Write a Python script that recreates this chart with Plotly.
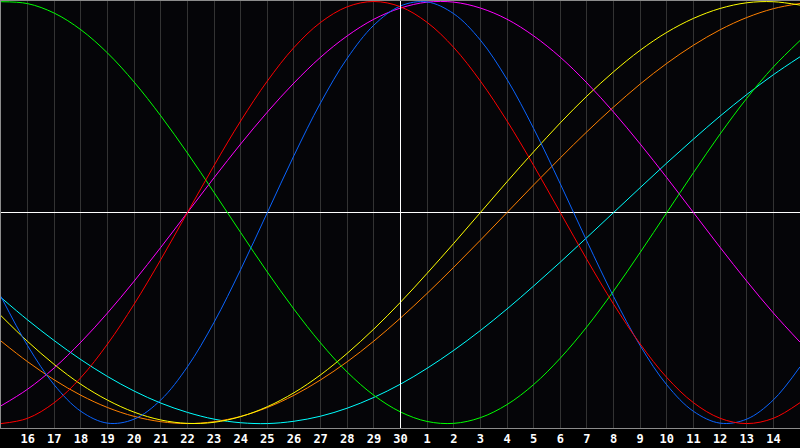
import plotly.graph_objects as go

# day index 0..30, centre (index 15) is the 30th
days = [15, 16, 17, 18, 19, 20, 21, 22, 23, 24, 25, 26, 27, 28, 29, 30,
        1, 2, 3, 4, 5, 6, 7, 8, 9, 10, 11, 12, 13, 14, 15]
x = list(range(len(days)))

red = [-100, -97.5, -90.1, -78.2, -62.3, -43.4, -22.3, 0, 22.3, 43.4, 62.3,
       78.2, 90.1, 97.5, 100, 97.5, 90.1, 78.2, 62.3, 43.4, 22.3, 0, -22.3,
       -43.4, -62.3, -78.2, -90.1, -97.5, -100, -97.5, -90.1]
green = [99.9, 99.0, 94.5, 86.6, 75.6, 61.8, 45.8, 28.2, 9.5, -9.5, -28.2,
         -45.8, -61.8, -75.6, -86.6, -94.5, -99.0, -99.9, -97.2, -91.0, -81.5,
         -69.0, -54.1, -37.2, -18.9, 0, 18.9, 37.2, 54.1, 69.0, 81.5]
blue = [-39.8, -63.1, -81.7, -94.2, -99.8, -97.9, -88.8, -73.1, -52.0, -27.0,
        0, 27.0, 52.0, 73.1, 88.8, 97.9, 99.8, 94.2, 81.7, 63.1, 39.8, 13.6,
        -13.6, -39.8, -63.1, -81.7, -94.2, -99.8, -97.9, -88.8, -73.1]
magenta = [-91.6, -83.7, -73.6, -61.4, -47.6, -32.5, -16.5, 0, 16.5, 32.5,
           47.6, 61.4, 73.6, 83.7, 91.6, 96.9, 99.7, 99.7, 96.9, 91.6, 83.7,
           73.6, 61.4, 47.6, 32.5, 16.5, 0, -16.5, -32.5, -47.6, -61.4]
yellow = [-48.9, -61.1, -72.0, -81.4, -88.9, -94.6, -98.3, -99.9, -99.4, -96.7,
          -92.0, -85.4, -76.9, -66.7, -55.2, -42.5, -28.8, -14.6, 0, 14.6,
          28.8, 42.5, 55.2, 66.7, 76.9, 85.4, 92.0, 96.7, 99.4, 99.9, 98.3]
orange = [-60.9, -70.7, -79.3, -86.6, -92.4, -96.6, -99.1, -100, -99.1, -96.6,
          -92.4, -86.6, -79.3, -70.7, -60.9, -50.0, -38.3, -25.9, -13.1, 0,
          13.1, 25.9, 38.3, 50.0, 60.9, 70.7, 79.3, 86.6, 92.4, 96.6, 99.1]
cyan = [-40.3, -50.9, -60.7, -69.7, -77.7, -84.6, -90.3, -94.7, -97.9, -99.6,
        -100, -98.9, -96.5, -92.7, -87.6, -81.3, -73.8, -65.3, -55.9, -45.7,
        -34.8, -23.5, -11.8, 0, 11.8, 23.5, 34.8, 45.7, 55.9, 65.3, 73.8]

series = [
    (cyan, '#00ffff'),
    (orange, '#ff8000'),
    (yellow, '#ffff00'),
    (magenta, '#ff00ff'),
    (green, '#00ff00'),
    (blue, '#0a64ff'),
    (red, '#ff0000'),
]

fig = go.Figure()
for vals, col in series:
    fig.add_trace(go.Scatter(x=x, y=vals, mode='lines',
                             line=dict(color=col, width=1, shape='spline'),
                             hoverinfo='skip'))

fig.add_vline(x=15, line_color='white', line_width=1)

fig.update_xaxes(range=[0, 30], tickvals=x[1:-1],
                 ticktext=[str(d) for d in days[1:-1]],
                 showgrid=True, gridcolor='#333333', gridwidth=1,
                 zeroline=False, showline=True, linecolor='#8c8c8c',
                 linewidth=1, mirror=True, ticks='',
                 tickfont=dict(family='DejaVu Sans Mono', size=12,
                               color='white', weight='bold'))
fig.update_yaxes(range=[-102.1, 100.24], showgrid=False, showticklabels=False,
                 zeroline=True, zerolinecolor='white', zerolinewidth=1,
                 showline=True, linecolor='#8c8c8c', linewidth=1, mirror=True)

fig.update_layout(width=800, height=448, showlegend=False,
                  margin=dict(l=1, r=0, t=1, b=20, pad=0),
                  paper_bgcolor='black', plot_bgcolor='#050508')

fig.write_html("out.html", config={'displayModeBar': False},
               post_script="document.body.style.margin='0';"
                           "document.body.style.overflow='hidden';")
